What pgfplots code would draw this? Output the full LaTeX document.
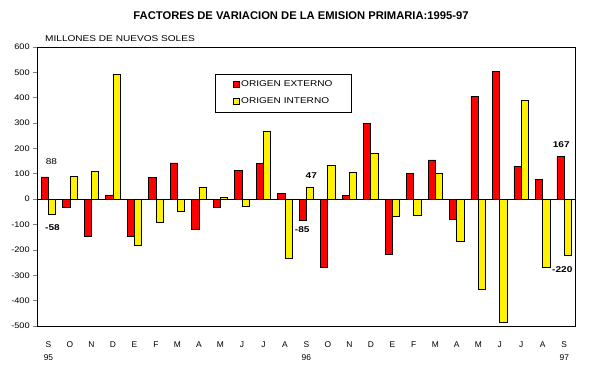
\documentclass[border=0pt]{standalone}
\usepackage{fontspec}
\setmainfont{Liberation Sans}
\usepackage{graphicx}
\usepackage{pgfplots}
\usepackage{pgfplotstable}
\pgfplotsset{compat=1.18}
\newcommand{\sx}[1]{\scalebox{1.2}[1]{#1}}
\newcommand{\sy}[1]{\scalebox{1.15}[1]{#1}}
\pgfplotstableread{
x ext int
0 88 -58
1 -33 90
2 -146 110
3 17 493
4 -146 -181
5 85 -91
6 143 -48
7 -119 46
8 -33 7
9 112 -29
10 140 269
11 22 -232
12 -85 47
13 -267 132
14 14 104
15 300 179
16 -217 -68
17 100 -64
18 155 100
19 -80 -168
20 406 -357
21 503 -487
22 129 390
23 77 -267
24 167 -220
}\data
\begin{document}
\begin{tikzpicture}
\path[use as bounding box] (0,0) rectangle (601pt,372pt);
\node[font=\fontsize{11.2}{13}\selectfont\bfseries] at (301pt,356pt) {FACTORES DE VARIACION DE LA EMISION PRIMARIA:1995-97};
\node[font=\fontsize{8.4}{10}\selectfont, anchor=west, inner sep=0pt] at (45pt,333pt) {\sx{MILLONES DE NUEVOS SOLES}};
\begin{axis}[
  at={(37.7pt,46pt)}, anchor=south west,
  scale only axis, width=537.3pt, height=279pt,
  xmin=-0.5, xmax=24.5, ymin=-500, ymax=600,
  ybar=0pt, bar width=0.34,
  axis line style={line width=1pt, black},
  ytick={-500,-400,...,600},
  yticklabels={\sy{-500},\sy{-400},\sy{-300},\sy{-200},\sy{-100},\sy{0},\sy{100},\sy{200},\sy{300},\sy{400},\sy{500},\sy{600}},
  ytick pos=left, tick align=outside, major tick length=4.5pt,
  ytick style={line width=0.8pt},
  yticklabel style={font=\fontsize{8}{9}\selectfont},
  xtick={0,...,24},
  xticklabels={{S\\95},O,N,D,E,F,M,A,M,J,J,A,{S\\96},O,N,D,E,F,M,A,M,J,J,A,{S\\97}},
  xticklabel style={font=\fontsize{8.4}{13}\selectfont, align=center, anchor=north, yshift=-8pt},
  xtick style={draw=none},
  extra y ticks={0}, extra y tick labels={},
  extra y tick style={grid=major, major grid style={black, line width=0.8pt}, tick style={draw=none}},
  legend style={at={(0.4575,0.835)}, anchor=center, draw=black, line width=0.8pt,
    font=\fontsize{8.4}{10}\selectfont, inner xsep=17pt, inner ysep=4.5pt, row sep=6pt},
  legend cell align=left,
  mylegend/.style={legend image code/.code={\draw[##1, draw=black, line width=0.7pt] (0pt,-3pt) rectangle (6pt,3pt);}},
]
\addplot[fill=red, draw=black, line width=0.7pt, mylegend] table[x=x,y=ext]{\data};
\addplot[fill=yellow, draw=black, line width=0.7pt, mylegend] table[x=x,y=int]{\data};
\legend{\sx{ORIGEN EXTERNO},\sx{ORIGEN INTERNO}}
\node[font=\fontsize{8.4}{10}\selectfont] at (axis cs:0.14,149) {\sx{88}};
\node[font=\fontsize{8.4}{10}\selectfont\bfseries] at (axis cs:0.19,-113) {\sx{-58}};
\node[font=\fontsize{8.4}{10}\selectfont\bfseries] at (axis cs:12.23,94) {\sx{47}};
\node[font=\fontsize{8.4}{10}\selectfont\bfseries] at (axis cs:11.81,-121) {\sx{-85}};
\node[font=\fontsize{8.4}{10}\selectfont\bfseries] at (axis cs:23.86,215) {\sx{167}};
\node[font=\fontsize{8.4}{10}\selectfont\bfseries] at (axis cs:23.91,-278) {\sx{-220}};
\end{axis}
\end{tikzpicture}
\end{document}
